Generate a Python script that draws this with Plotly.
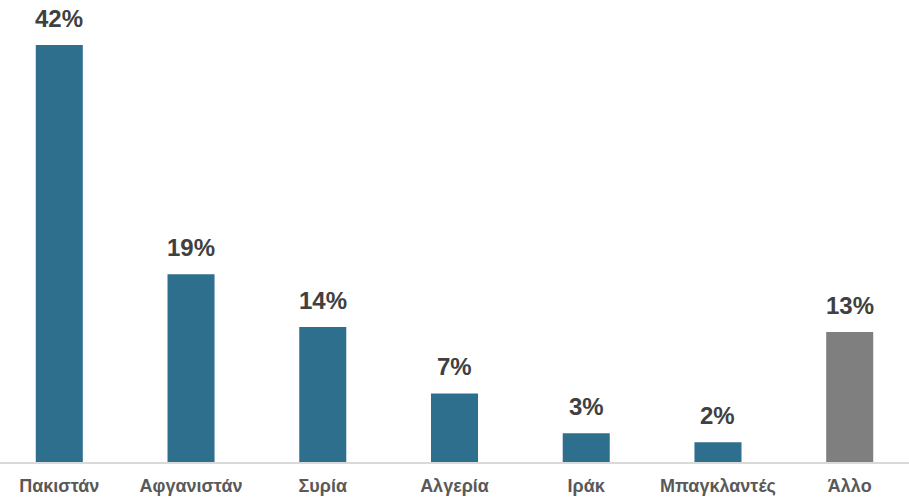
import plotly.graph_objects as go

categories = ["Πακιστάν", "Αφγανιστάν", "Συρία", "Αλγερία", "Ιράκ", "Μπαγκλαντές", "Άλλο"]
values = [42.0, 18.9, 13.6, 6.9, 2.9, 2.0, 13.1]
labels = ["42%", "19%", "14%", "7%", "3%", "2%", "13%"]
colors = ["#2E6F8E"] * 6 + ["#7F7F7F"]

fig = go.Figure()
fig.add_trace(go.Bar(
    x=list(range(len(categories))), y=values,
    marker=dict(color=colors, line=dict(width=0)),
    width=0.357,
    hoverinfo="skip",
))

for i, (v, t) in enumerate(zip(values, labels)):
    fig.add_annotation(x=i, y=v, text="<b>%s</b>" % t, showarrow=False,
                       yanchor="bottom", yshift=11,
                       font=dict(family="Liberation Sans, Arial, sans-serif", size=24, color="#404040"))

fig.update_layout(
    width=909, height=497,
    margin=dict(l=0, r=0, t=0, b=35),
    paper_bgcolor="white", plot_bgcolor="white",
    showlegend=False,
    xaxis=dict(
        range=[-0.45, 6.45],
        tickmode="array",
        tickvals=list(range(len(categories))),
        ticktext=["<b>%s</b>" % c for c in categories],
        tickfont=dict(family="Liberation Sans, Arial, sans-serif", size=18, color="#595959"),
        showline=True, linecolor="#D9D9D9", linewidth=2,
        showgrid=False, zeroline=False, ticks="",
        ticklabelstandoff=6,
        fixedrange=True,
    ),
    yaxis=dict(range=[0, 46.53], visible=False, showgrid=False, zeroline=False, fixedrange=True),
)

fig.write_html("out.html", config={"displayModeBar": False},
               post_script="document.body.style.margin='0';document.body.style.overflow='hidden';")
